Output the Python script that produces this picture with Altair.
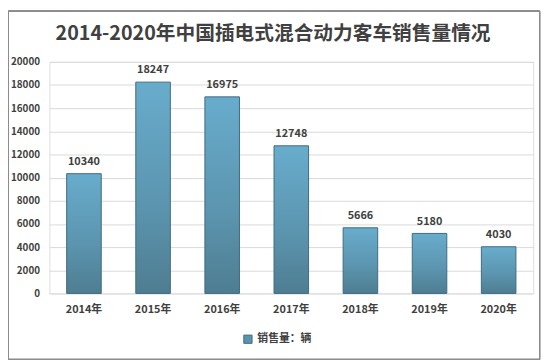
import altair as alt
import pandas as pd

years = ["2014年", "2015年", "2016年", "2017年", "2018年", "2019年", "2020年"]
sales = [10340, 18247, 16975, 12748, 5666, 5180, 4030]
series_name = "销售量：辆"
title_text = "2014-2020年中国插电式混合动力客车销售量情况"
y_ticks = [0, 2000, 4000, 6000, 8000, 10000, 12000, 14000, 16000, 18000, 20000]

df = pd.DataFrame({"year": years, "sales": sales, "series": [series_name] * len(years)})
title_df = pd.DataFrame({"t": [title_text]})

FONT = "Noto Sans CJK SC"
W, H = 491, 235

gradient = alt.Gradient(
    gradient="linear",
    x1=0, y1=0, x2=0, y2=1,
    stops=[
        alt.GradientStop(color="#68ACCC", offset=0),
        alt.GradientStop(color="#5B94AE", offset=0.6),
        alt.GradientStop(color="#4E7D91", offset=1),
    ],
)

x_enc = alt.X(
    "year:N",
    sort=years,
    scale=alt.Scale(paddingInner=0.5, paddingOuter=0.25),
    axis=alt.Axis(
        title=None, labelAngle=0, ticks=False, domain=False,
        labelFont=FONT, labelFontSize=11, labelColor="#404040",
        labelFontWeight="bold", labelPadding=10,
    ),
)
y_enc = alt.Y(
    "sales:Q",
    scale=alt.Scale(domain=[0, 20000], nice=False),
    axis=alt.Axis(
        title=None, values=y_ticks, ticks=False, domain=False,
        format="d", labelOverlap=False, tickCount=11,
        labelFont=FONT, labelFontSize=10, labelColor="#404040",
        labelFontWeight="bold", labelPadding=10,
        gridColor="#D9D9D9", gridWidth=1,
    ),
)

base = alt.Chart(df).encode(x=x_enc, y=y_enc)

bars = base.mark_bar(
    fill=gradient, stroke="#3F6B7F", strokeWidth=1,
).encode(
    color=alt.Color(
        "series:N",
        scale=alt.Scale(range=["#5A93AD"]),
        legend=alt.Legend(
            title=None, orient="none", legendX=196, legendY=276,
            symbolType="square", symbolSize=70,
            symbolStrokeColor="#3F6B7F", symbolStrokeWidth=1,
            labelFont=FONT, labelFontSize=11, labelColor="#404040",
            labelFontWeight="bold",
        ),
    ),
)

labels = base.mark_text(
    dy=-12, font=FONT, fontSize=11, fontWeight="bold", color="#404040",
).encode(text="sales:Q")

title = alt.Chart(title_df).mark_text(
    font=FONT, fontSize=20, fontWeight="bold", color="#404040",
    align="center", baseline="middle",
).encode(x=alt.value(227), y=alt.value(-28), text="t:N")

border = alt.Chart(df).mark_rect(
    fill=None, stroke="#8C8C8C", strokeWidth=1,
).encode(
    x=alt.value(-41.5), x2=alt.value(497.5),
    y=alt.value(-51.5), y2=alt.value(302),
)

chart = alt.layer(bars, labels, title, border).properties(
    width=W, height=H,
    autosize=alt.AutoSizeParams(type="none"),
    padding={"left": 42, "top": 52, "right": 14, "bottom": 68},
).configure_view(stroke=None).configure(background="white")

chart.save("out.html", embed_options={"renderer": "svg", "actions": False})
